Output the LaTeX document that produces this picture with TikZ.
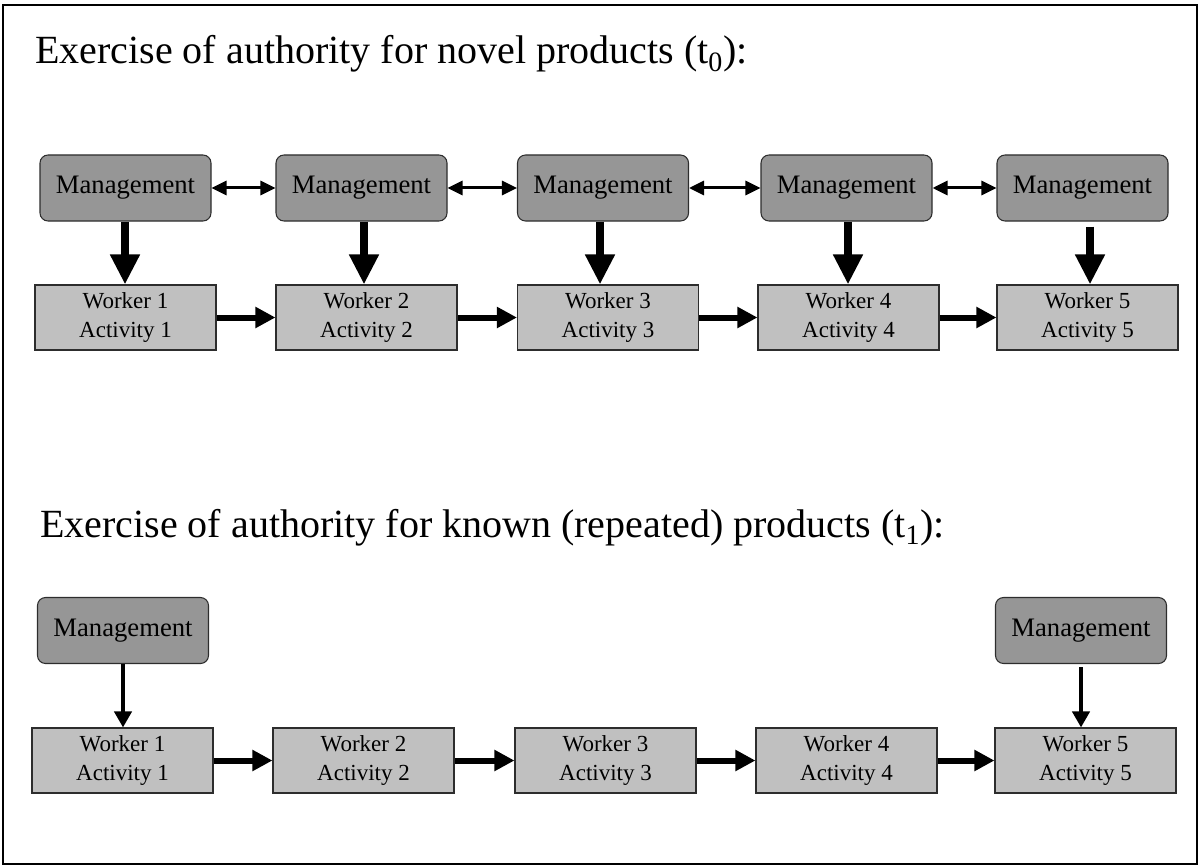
\documentclass[tikz,border=0pt]{standalone}
\usepackage{fontspec}
\setmainfont{Liberation Serif}
\usetikzlibrary{arrows.meta}
\definecolor{mgmtgray}{RGB}{150,150,150}
\definecolor{workgray}{RGB}{192,192,192}
\definecolor{edgegray}{RGB}{45,45,45}
\begin{document}
\begin{tikzpicture}[x=0.75pt,y=-0.75pt,
  mgmt/.style={draw=edgegray, line width=0.8pt, fill=mgmtgray, rounded corners=6pt,
    minimum width=128.25pt, minimum height=49.5pt, inner sep=0pt,
    font=\fontsize{20}{24}\selectfont},
  worker/.style={draw=edgegray, line width=0.8pt, fill=workgray,
    minimum width=135.75pt, minimum height=48.75pt, inner sep=0pt, align=center,
    font=\fontsize{17.25}{22}\selectfont},
  heading/.style={inner sep=0pt, anchor=base west, font=\fontsize{30}{36}\selectfont},
  bigdown/.style={line width=6pt, -{Triangle[length=22.5pt,width=21pt]}},
  thindown/.style={line width=3pt, -{Triangle[length=12pt,width=12.75pt]}},
  flow/.style={line width=4.5pt, -{Triangle[length=15pt,width=15pt]}},
  link/.style={line width=2.25pt, {Triangle[length=11.25pt,width=10.5pt]}-{Triangle[length=11.25pt,width=10.5pt]}}
]
\useasboundingbox (0,0) rectangle (1201,866);
\draw[line width=1.5pt] (3,5) rectangle (1197,864);

% ---- novel products ----
\node[heading] (h1) at (35,64) {Exercise of authority for novel products (t\textsubscript{0}):};

\node[mgmt] (m1) at (125.5,188) {Management};
\node[mgmt] (m2) at (361.5,188) {Management};
\node[mgmt] (m3) at (603,188) {Management};
\node[mgmt] (m4) at (846.5,188) {Management};
\node[mgmt] (m5) at (1082.5,188) {Management};

\node[worker] (w1) at (125.5,317.5) {Worker 1\\Activity 1};
\node[worker] (w2) at (366.5,317.5) {Worker 2\\Activity 2};
\node[worker] (w3) at (608,317.5) {Worker 3\\Activity 3};
\node[worker] (w4) at (848.5,317.5) {Worker 4\\Activity 4};
\node[worker] (w5) at (1087.5,317.5) {Worker 5\\Activity 5};

\coordinate (c1) at (125,0);
\coordinate (c2) at (364,0);
\coordinate (c3) at (600,0);
\coordinate (c4) at (848,0);
\coordinate (c5) at (1090,0);

\draw[bigdown] (m1.south -| c1) -- (w1.north -| c1);
\draw[bigdown] (m2.south -| c2) -- (w2.north -| c2);
\draw[bigdown] (m3.south -| c3) -- (w3.north -| c3);
\draw[bigdown] (m4.south -| c4) -- (w4.north -| c4);
\draw[bigdown, shorten <=3.75pt] (m5.south -| c5) -- (w5.north -| c5);

\draw[link] (m1) -- (m2);
\draw[link] (m2) -- (m3);
\draw[link] (m3) -- (m4);
\draw[link] (m4) -- (m5);

\draw[flow] (w1) -- (w2);
\draw[flow] (w2) -- (w3);
\draw[flow] (w3) -- (w4);
\draw[flow] (w4) -- (w5);

% ---- known (repeated) products ----
\node[heading] (h2) at (40,537) {Exercise of authority for known (repeated) products (t\textsubscript{1}):};

\node[mgmt] (n1) at (123,630.5) {Management};
\node[mgmt] (n5) at (1081,630.5) {Management};

\node[worker] (v1) at (122.5,760.5) {Worker 1\\Activity 1};
\node[worker] (v2) at (363.5,760.5) {Worker 2\\Activity 2};
\node[worker] (v3) at (605.5,760.5) {Worker 3\\Activity 3};
\node[worker] (v4) at (846.5,760.5) {Worker 4\\Activity 4};
\node[worker] (v5) at (1085.5,760.5) {Worker 5\\Activity 5};

\coordinate (d1) at (123,0);
\coordinate (d5) at (1081,0);

\draw[thindown] (n1.south -| d1) -- (v1.north -| d1);
\draw[thindown, shorten <=2.25pt] (n5.south -| d5) -- (v5.north -| d5);

\draw[flow] (v1) -- (v2);
\draw[flow] (v2) -- (v3);
\draw[flow] (v3) -- (v4);
\draw[flow] (v4) -- (v5);
\end{tikzpicture}
\end{document}
